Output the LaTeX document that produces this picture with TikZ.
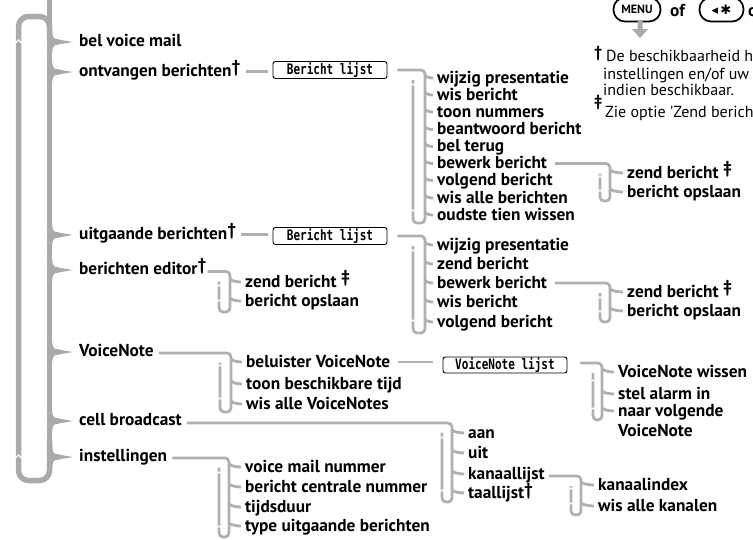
\documentclass[tikz,border=0pt]{standalone}
\usepackage{fontspec}
\usepackage{graphicx}
\setmainfont{PT Sans}
\newfontfamily\boxfont{DejaVu Sans Mono}
\newfontfamily\symfont{DejaVu Sans}
\usetikzlibrary{calc}
\definecolor{lg}{RGB}{170,170,170}
\definecolor{sg}{RGB}{176,176,176}
\newcommand\dg{\raisebox{4.5pt}{†}}
\newcommand\ddg{\raisebox{4.5pt}{‡}}
\newcommand\tk[2]{\draw[subline] ($(#2.west -| #1)+(0,-3.5)$) .. controls +(0,2.5) and +(-3,0) .. ([xshift=-4pt]#2.west);}
\newcommand\gp[2]{\draw[white,line width=1.1pt] (#1-2.6,#2+2.4) -- (#1,#2) -- (#1+2.6,#2+2.4);}
\begin{document}
\begin{tikzpicture}[x=1pt,y=-1pt,
  mainline/.style={draw=lg,line width=5.5pt,line join=round},
  subline/.style={draw=sg,line width=2.8pt,line join=round},
  itm/.style={anchor=base west,inner sep=0pt,text height=12pt,text depth=2pt,font=\fontsize{17.3}{18}\selectfont\bfseries},
  note/.style={anchor=base west,inner sep=0pt,font=\fontsize{16}{17}\selectfont},
  lbox/.style={draw=black,line width=0.9pt,rounded corners=2.5pt,minimum height=17pt,inner sep=0pt,font=\fontsize{14.5}{14}\selectfont\boxfont\bfseries},
  pill/.style={draw=black,line width=1.7pt,rounded corners=11.5pt,minimum height=24pt,inner sep=0pt}
]
\useasboundingbox (0,0) rectangle (753,539);
\clip (0,0) rectangle (753,539);

% ---- main loop and brace ----
\draw[mainline] (49.5,-5) -- (49.5,470);
\draw[mainline,rounded corners=10pt] (49.5,440) -- (49.5,480.5) -- (18.5,480.5) -- (18.5,16.5) -- (49.5,16.5) -- (49.5,40);
\foreach \t in {42,72,235,270,352,421,457}{
  \draw[mainline] (49.5,\t-11) .. controls (49.5,\t-3) and (52,\t) .. (58,\t) .. controls (52,\t) and (49.5,\t+3) .. (49.5,\t+11);
  \fill[lg] (55,\t-3) -- (73,\t) -- (55,\t+3) -- cycle;
}
\draw[white,line width=1.3pt] (14.5,44) -- (18.5,40) -- (22.5,44);
\draw[white,line width=1.3pt] (14.5,459) -- (18.5,455) -- (22.5,459);

% ---- main items ----
\node[itm] (m1) at (79,46.5) {bel voice mail};
\node[itm] (m2) at (79,76.5) {ontvangen berichten\dg};
\node[itm] (m3) at (79,239.5) {uitgaande berichten\dg};
\node[itm] (m4) at (79,274.5) {berichten editor\dg};
\node[itm] (m5) at (79,356.5) {VoiceNote};
\node[itm] (m6) at (79,425.5) {cell broadcast};
\node[itm] (m7) at (79,461.5) {instellingen};

% ---- list boxes ----
\node[lbox,minimum width=114pt] (b1) at (330,70) {\scalebox{0.76}[1]{Bericht lijst}};
\node[lbox,minimum width=114pt] (b2) at (330,236) {\scalebox{0.76}[1]{Bericht lijst}};

\draw[subline] ($(m2.east)+(5,0)$) -- ($(m2.east -| b1.west)+(-5,0)$);
\draw[subline] ($(m3.east)+(5,0)$) -- ($(m3.east -| b2.west)+(-5,0)$);

% ---- bracket A ----
\coordinate (Ab) at (425,223); \coordinate (Al) at (413,223);
\draw[subline,rounded corners=4pt] ($(b1.east)+(10,0)$) -- (b1.east -| Ab) -- (Ab) -- (Al) -- ($(b1.east -| Al)+(0,10)$);
\gp{413}{84}\gp{413}{210}
\node[itm] (a1) at (437,83) {wijzig presentatie};
\node[itm] (a2) at (437,100) {wis bericht};
\node[itm] (a3) at (437,117) {toon nummers};
\node[itm] (a4) at (437,134.5) {beantwoord bericht};
\node[itm] (a5) at (437,151.5) {bel terug};
\node[itm] (a6) at (437,168.5) {bewerk bericht};
\node[itm] (a7) at (437,185.5) {volgend bericht};
\node[itm] (a8) at (437,203) {wis alle berichten};
\node[itm] (a9) at (437,220) {oudste tien wissen};
\foreach \n in {a1,a2,a3,a4,a5,a6,a7,a8,a9}{\tk{Ab}{\n}}

% ---- bracket B ----
\coordinate (Bb) at (610,201); \coordinate (Bl) at (600,201);
\draw[subline,rounded corners=4pt] ($(a6.east)+(8,0)$) -- (a6.east -| Bb) -- (Bb) -- (Bl) -- ($(a6.east -| Bl)+(0,10)$);
\gp{600}{176}\gp{600}{190}
\node[itm] (bb1) at (627,178) {zend bericht \ddg};
\node[itm] (bb2) at (627,197) {bericht opslaan};
\foreach \n in {bb1,bb2}{\tk{Bb}{\n}}

% ---- bracket C ----
\coordinate (Cb) at (425,333); \coordinate (Cl) at (413,333);
\draw[subline,rounded corners=4pt] ($(b2.east)+(10,0)$) -- (b2.east -| Cb) -- (Cb) -- (Cl) -- ($(b2.east -| Cl)+(0,10)$);
\gp{413}{250}\gp{413}{320}
\node[itm] (c1) at (437,250) {wijzig presentatie};
\node[itm] (c2) at (437,269) {zend bericht};
\node[itm] (c3) at (437,288) {bewerk bericht};
\node[itm] (c4) at (437,307) {wis bericht};
\node[itm] (c5) at (437,327) {volgend bericht};
\foreach \n in {c1,c2,c3,c4,c5}{\tk{Cb}{\n}}

% ---- bracket D ----
\coordinate (Db) at (610,322); \coordinate (Dl) at (600,322);
\draw[subline,rounded corners=4pt] ($(c3.east)+(8,0)$) -- (c3.east -| Db) -- (Db) -- (Dl) -- ($(c3.east -| Dl)+(0,10)$);
\gp{600}{297}\gp{600}{311}
\node[itm] (d1) at (627,297) {zend bericht \ddg};
\node[itm] (d2) at (627,316) {bericht opslaan};
\foreach \n in {d1,d2}{\tk{Db}{\n}}

% ---- bracket E ----
\coordinate (Eb) at (230,312); \coordinate (El) at (219,312);
\draw[subline,rounded corners=4pt] ($(m4.east)+(1,2)$) -- ($(m4.east -| Eb)+(0,2)$) -- (Eb) -- (El) -- ($(m4.east -| El)+(0,12)$);
\gp{219}{285}\gp{219}{300}
\node[itm] (e1) at (245,287) {zend bericht \ddg};
\node[itm] (e2) at (245,306) {bericht opslaan};
\foreach \n in {e1,e2}{\tk{Eb}{\n}}

% ---- bracket F ----
\coordinate (Fb) at (231,412); \coordinate (Fl) at (220,412);
\draw[subline,rounded corners=4pt] ($(m5.east)+(5,1.5)$) -- ($(m5.east -| Fb)+(0,1.5)$) -- (Fb) -- (Fl) -- ($(m5.east -| Fl)+(0,11)$);
\gp{220}{365}\gp{220}{398}
\node[itm] (f1) at (246,367) {beluister VoiceNote};
\node[itm] (f2) at (246,389) {toon beschikbare tijd};
\node[itm] (f3) at (246,409) {wis alle VoiceNotes};
\foreach \n in {f1,f2,f3}{\tk{Fb}{\n}}

% ---- VoiceNote lijst ----
\node[lbox,minimum width=124pt,minimum height=16pt] (b3) at (505,365) {\scalebox{0.76}[1]{VoiceNote lijst}};
\draw[subline] ($(f1.east)+(8,0)$) -- ($(f1.east -| b3.west)+(-10,0)$);

% ---- bracket G ----
\coordinate (Gb) at (602,420); \coordinate (Gl) at (593,420);
\draw[subline,rounded corners=4pt] ($(b3.east)+(13,-2)$) -- ($(b3.east -| Gb)+(0,-2)$) -- (Gb) -- (Gl) -- ($(b3.east -| Gl)+(0,8)$);
\gp{593}{380}\gp{593}{408}
\node[itm] (g1) at (618,377) {VoiceNote wissen};
\node[itm] (g2) at (618,399) {stel alarm in};
\node[itm] (g3) at (618,416) {naar volgende};
\node[itm] (g4) at (618,436) {VoiceNote};
\foreach \n in {g1,g2,g3}{\tk{Gb}{\n}}

% ---- bracket H ----
\coordinate (Hb) at (452,502); \coordinate (Hl) at (442,502);
\draw[subline,rounded corners=4pt] ($(m6.east)+(5,2.5)$) -- ($(m6.east -| Hb)+(0,2.5)$) -- (Hb) -- (Hl) -- ($(m6.east -| Hl)+(0,12)$);
\gp{442}{437}\gp{442}{490}
\node[itm] (h1) at (468,438) {aan};
\node[itm] (h2) at (468,458) {uit};
\node[itm] (h3) at (468,479) {kanaallijst};
\node[itm] (h4) at (468,498) {taallijst\raisebox{3pt}{†}};
\foreach \n in {h1,h2,h3,h4}{\tk{Hb}{\n}}

% ---- bracket I ----
\coordinate (Ib) at (581,515); \coordinate (Il) at (571,515);
\draw[subline,rounded corners=4pt] ($(h3.east)+(4,2)$) -- ($(h3.east -| Ib)+(0,2)$) -- (Ib) -- (Il) -- ($(h3.east -| Il)+(0,12)$);
\gp{571}{488}\gp{571}{503}
\node[itm] (i1) at (598,490) {kanaalindex};
\node[itm] (i2) at (598,511) {wis alle kanalen};
\foreach \n in {i1,i2}{\tk{Ib}{\n}}

% ---- bracket J ----
\coordinate (Jb) at (229,537); \coordinate (Jl) at (219,537);
\draw[subline,rounded corners=4pt] ($(m7.east)+(5,1.5)$) -- ($(m7.east -| Jb)+(0,1.5)$) -- (Jb) -- (Jl) -- ($(m7.east -| Jl)+(0,11)$);
\gp{219}{472}\gp{219}{526}
\node[itm] (j1) at (245,472) {voice mail nummer};
\node[itm] (j2) at (245,492) {bericht centrale nummer};
\node[itm] (j3) at (245,512) {tijdsduur};
\node[itm] (j4) at (245,531) {type uitgaande berichten};
\foreach \n in {j1,j2,j3,j4}{\tk{Jb}{\n}}

% ---- top right keys ----
\node[pill,minimum width=47pt] (menu) at (637,9.5) {\fontsize{12}{12}\selectfont\bfseries MENU};
\node[anchor=base west,inner sep=0pt,font=\fontsize{17.3}{17}\selectfont\bfseries] (of) at (670,16) {of};
\node[pill,minimum width=44pt] (nav) at (721.5,9.5) {\fontsize{13}{13}\selectfont\symfont\bfseries ◂\,✱};
\node[anchor=base west,inner sep=0pt,font=\fontsize{17.3}{17}\selectfont\bfseries] (o2) at (748,16) {o};
\fill[lg] (637.5,21) -- (642.5,21) -- (642.5,29) -- (648,29) -- (640,38) -- (632,29) -- (637.5,29) -- cycle;

% ---- footnotes ----
\node[anchor=base west,inner sep=0pt,font=\fontsize{16}{16}\selectfont\bfseries] (fd) at (594,57) {†};
\node[note] (n1) at (606,61) {De beschikbaarheid h};
\node[note] (n2) at (603,79) {instellingen en/of uw};
\node[note] (n3) at (603,95) {indien beschikbaar.};
\node[anchor=base west,inner sep=0pt,font=\fontsize{16}{16}\selectfont\bfseries] (fdd) at (594,106) {‡};
\node[note] (n4) at (605,117) {Zie optie \textquotesingle Zend berich};
\end{tikzpicture}
\end{document}
